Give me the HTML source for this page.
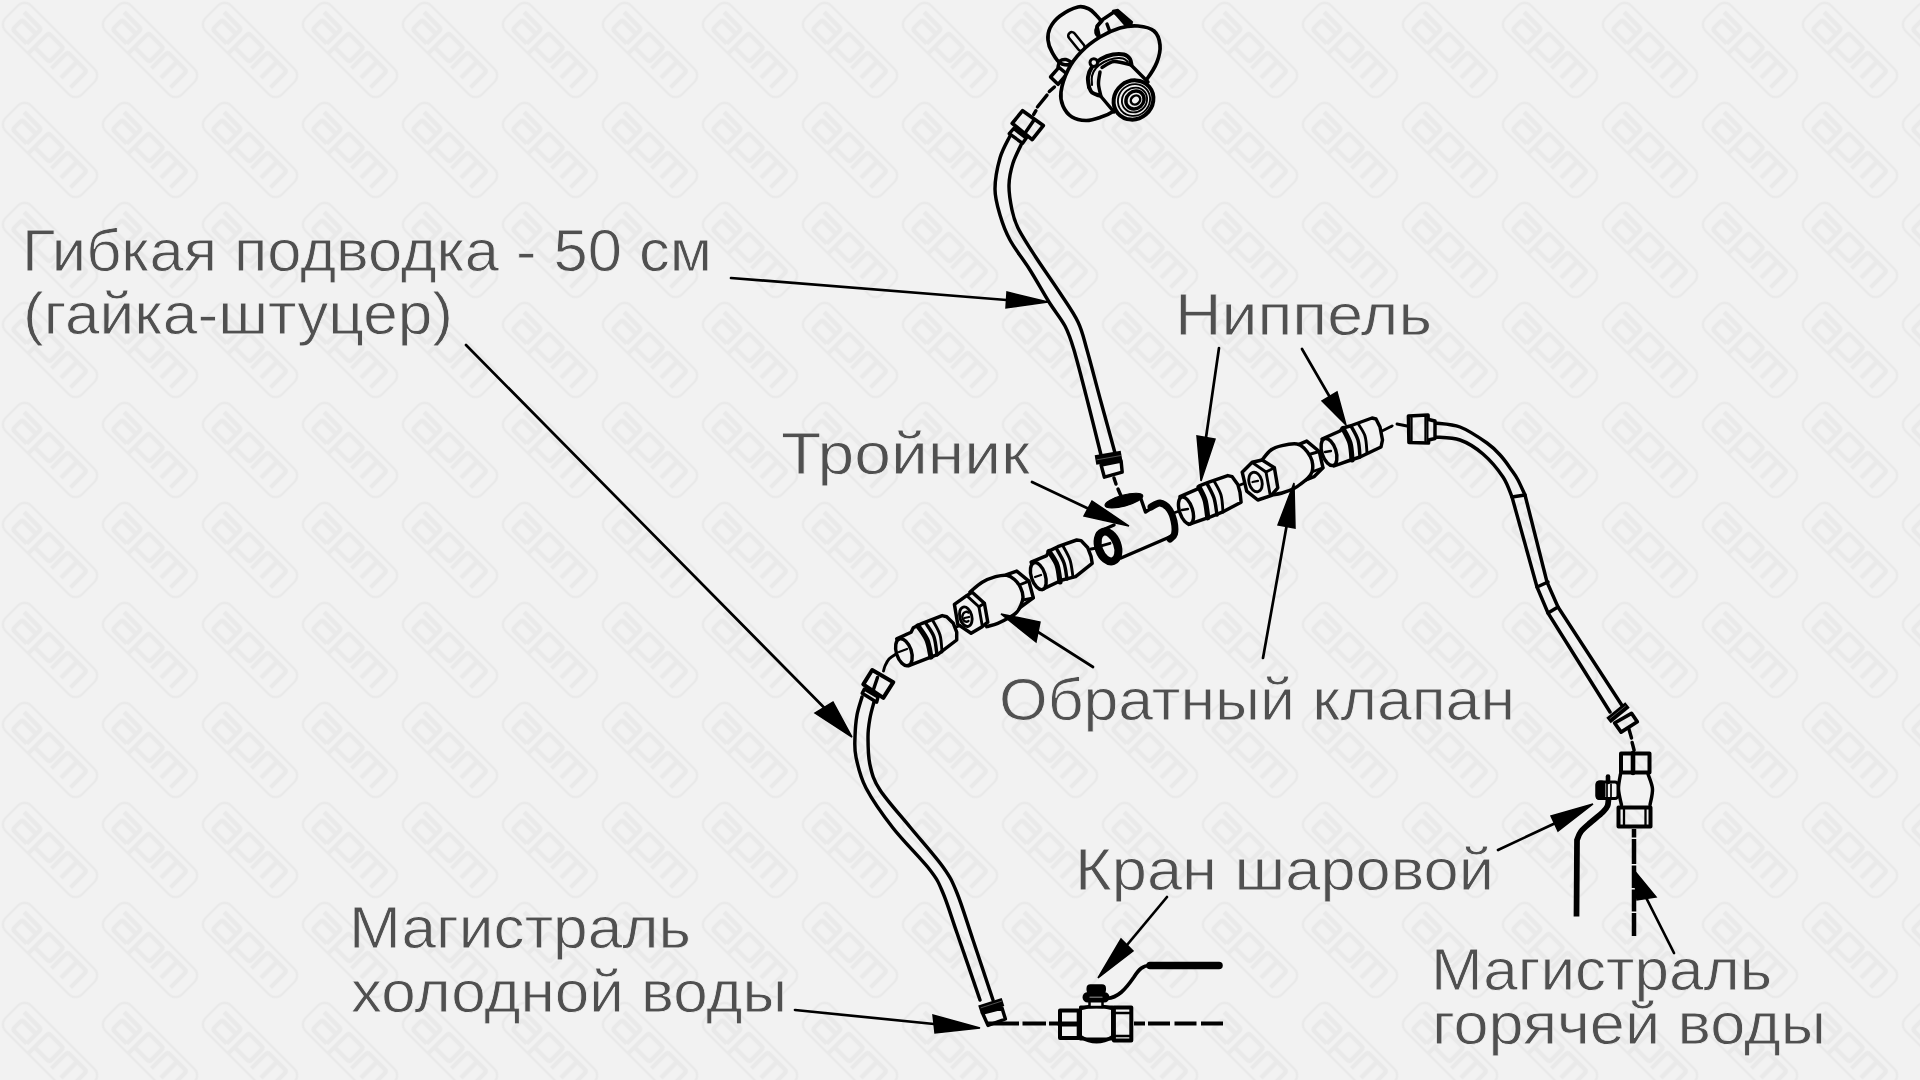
<!DOCTYPE html>
<html><head><meta charset="utf-8">
<style>
html,body{margin:0;padding:0;width:1920px;height:1080px;overflow:hidden;background:#f2f2f2;}
svg{position:absolute;left:0;top:0;}
text{font-family:"Liberation Sans",sans-serif;}
</style></head><body>
<svg width="1920" height="1080" viewBox="0 0 1920 1080">
<defs>
<filter id="wmblur" x="-20%" y="-50%" width="140%" height="200%"><feGaussianBlur stdDeviation="0.5"/></filter>
<pattern id="bg" x="0" y="0" width="100" height="100" patternUnits="userSpaceOnUse">
<rect width="100" height="100" fill="#f2f2f2"/>
<g transform="translate(50,50) rotate(45)" fill="none" stroke="#e9e9e9" filter="url(#wmblur)">
<rect x="-54" y="-18" width="108" height="36" rx="9" stroke-width="2.4"/>
<path d="M-45,-8.5 L-24,-8.5 Q-21,-8.5 -21,-5.5 L-21,12 M-21,-1.5 L-38,-1.5 Q-41,-1.5 -41,1.5 L-41,9 Q-41,12 -38,12 L-21,12 M-13,17 L-13,-8 Q-13,-11 -10,-11 L5,-11 Q8,-11 8,-8 L8,6 Q8,9 5,9 L-13,9 M14,12 L14,-8 Q14,-11 17,-11 L38,-11 Q41,-11 41,-8 L41,12 M27.5,-11 L27.5,12" stroke-width="4.4" stroke="#e9e9e9" fill="none"/>
</g>
</pattern>
</defs>
<rect width="1920" height="1080" fill="url(#bg)"/>

<g id="labels" fill="#505050" font-size="58.6" stroke="#f2f2f2" stroke-width="0.8">
<text x="22.0" y="270.7" textLength="690.0" lengthAdjust="spacingAndGlyphs">Гибкая подводка - 50 см</text>
<text x="23.0" y="333.7" textLength="430.0" lengthAdjust="spacingAndGlyphs">(гайка-штуцер)</text>
<text x="1175.0" y="334.7" textLength="257.0" lengthAdjust="spacingAndGlyphs">Ниппель</text>
<text x="781.0" y="473.7" textLength="249.0" lengthAdjust="spacingAndGlyphs">Тройник</text>
<text x="999.0" y="719.7" textLength="516.0" lengthAdjust="spacingAndGlyphs">Обратный клапан</text>
<text x="1075.0" y="889.7" textLength="419.0" lengthAdjust="spacingAndGlyphs">Кран шаровой</text>
<text x="349.0" y="947.7" textLength="342.0" lengthAdjust="spacingAndGlyphs">Магистраль</text>
<text x="351.0" y="1011.7" textLength="436.0" lengthAdjust="spacingAndGlyphs">холодной воды</text>
<text x="1431.0" y="989.7" textLength="341.0" lengthAdjust="spacingAndGlyphs">Магистраль</text>
<text x="1432.0" y="1043.7" textLength="394.0" lengthAdjust="spacingAndGlyphs">горячей воды</text>
</g>

<g id="drawing" fill="none" stroke="#000" stroke-width="3" stroke-linecap="round" stroke-linejoin="round">
<path d="M1010.0,136.0 C1008.3,139.7 1002.5,149.2 1000.0,158.0 C997.5,166.8 995.0,179.5 995.0,189.0 C995.0,198.5 997.5,206.5 1000.0,215.0 C1002.5,223.5 1005.0,230.8 1010.0,240.0 C1015.0,249.2 1023.5,259.7 1030.0,270.0 C1036.5,280.3 1043.2,292.7 1049.0,302.0 C1054.8,311.3 1060.8,318.0 1065.0,326.0 C1069.2,334.0 1070.2,337.2 1074.0,350.0 C1077.8,362.8 1083.5,385.5 1088.0,403.0 C1092.5,420.5 1098.8,446.3 1101.0,455.0" fill="none" stroke="#000" stroke-width="3.45" />
<path d="M1022.0,143.0 C1020.5,146.3 1015.2,156.0 1013.0,163.0 C1010.8,170.0 1009.2,177.2 1009.0,185.0 C1008.8,192.8 1010.5,202.8 1012.0,210.0 C1013.5,217.2 1014.2,220.3 1018.0,228.0 C1021.8,235.7 1028.0,245.2 1035.0,256.0 C1042.0,266.8 1052.8,282.0 1060.0,293.0 C1067.2,304.0 1073.5,312.5 1078.0,322.0 C1082.5,331.5 1083.2,336.7 1087.0,350.0 C1090.8,363.3 1096.3,384.8 1101.0,402.0 C1105.7,419.2 1112.7,444.5 1115.0,453.0" fill="none" stroke="#000" stroke-width="3.45" />
<path d="M862.0,697.0 C861.2,700.0 858.2,708.3 857.0,715.0 C855.8,721.7 855.2,730.0 855.0,737.0 C854.8,744.0 854.2,748.5 856.0,757.0 C857.8,765.5 859.8,776.2 866.0,788.0 C872.2,799.8 882.3,814.3 893.0,828.0 C903.7,841.7 921.7,859.2 930.0,870.0 C938.3,880.8 938.5,882.5 943.0,893.0 C947.5,903.5 950.8,915.2 957.0,933.0 C963.2,950.8 976.2,988.8 980.0,1000.0" fill="none" stroke="#000" stroke-width="3.45" />
<path d="M874.0,702.0 C873.3,704.7 871.0,712.2 870.0,718.0 C869.0,723.8 868.0,729.2 868.0,737.0 C868.0,744.8 868.0,756.2 870.0,765.0 C872.0,773.8 873.3,779.7 880.0,790.0 C886.7,800.3 899.5,814.2 910.0,827.0 C920.5,839.8 935.2,856.0 943.0,867.0 C950.8,878.0 952.0,880.8 957.0,893.0 C962.0,905.2 967.0,922.2 973.0,940.0 C979.0,957.8 989.7,990.0 993.0,1000.0" fill="none" stroke="#000" stroke-width="3.45" />
<path d="M1435.0,423.0 C1439.2,423.7 1451.3,423.7 1460.0,427.0 C1468.7,430.3 1480.2,438.2 1487.0,443.0 C1493.8,447.8 1496.9,451.5 1501.0,456.0 C1505.1,460.5 1508.7,466.0 1511.5,470.0 C1514.3,474.0 1515.8,475.8 1518.0,480.0 C1520.2,484.2 1523.8,492.5 1525.0,495.0 L1547,582 L1558,607 L1623,707" fill="none" stroke="#000" stroke-width="3.45" />
<path d="M1435.0,437.0 C1439.2,437.5 1452.0,437.2 1460.0,440.0 C1468.0,442.8 1475.8,447.8 1483.0,454.0 C1490.2,460.2 1498.2,469.8 1503.0,477.0 C1507.8,484.2 1510.5,493.7 1512.0,497.0 L1537,587 L1548,613 L1610,712" fill="none" stroke="#000" stroke-width="3.45" />
<path d="M1512.0,497.0 L1525.0,495.0" fill="none" stroke="#000" stroke-width="3.45" />
<path d="M1537.0,587.0 L1548.0,582.0" fill="none" stroke="#000" stroke-width="3.45" />
<path d="M1548.0,613.0 L1558.0,607.0" fill="none" stroke="#000" stroke-width="3.45" />
<path d="M1062.0,64.0 C1057.3,62.3 1054.3,56.0 1052.0,52.0 C1049.7,48.0 1048.3,44.0 1048.0,40.0 C1047.7,36.0 1048.0,32.0 1050.0,28.0 C1052.0,24.0 1055.3,19.5 1060.0,16.0 C1064.7,12.5 1073.2,8.2 1078.0,7.0 C1082.8,5.8 1086.0,7.7 1089.0,9.0 C1092.0,10.3 1093.8,12.8 1096.0,15.0 C1098.2,17.2 1100.0,19.5 1102.0,22.0 C1104.0,24.5 1108.3,25.7 1108.0,30.0 C1107.7,34.3 1104.7,42.7 1100.0,48.0 C1095.3,53.3 1086.3,59.3 1080.0,62.0 C1073.7,64.7 1066.7,65.7 1062.0,64.0 Z" fill="url(#bg)" stroke="#000" stroke-width="3.68" />
<path d="M1097.0,26.0 L1102.0,20.0 L1114.0,12.0 L1131.0,24.0 L1122.0,34.0 L1100.0,40.0 Z" fill="url(#bg)" stroke="#000" stroke-width="3.45" />
<path d="M1113.0,11.0 L1118.0,10.0 L1132.0,22.0 L1127.0,27.0 Z" fill="#000" stroke="#000" stroke-width="2.30" />
<path d="M1102.0,21.0 C1101.2,22.0 1098.0,25.0 1097.0,27.0 C1096.0,29.0 1095.7,31.3 1096.0,33.0 C1096.3,34.7 1098.5,36.3 1099.0,37.0" fill="none" stroke="#000" stroke-width="3.45" />
<path d="M1107.0,24.0 L1110.0,32.0" fill="none" stroke="#000" stroke-width="3.45" />
<rect x="-11" y="-3.6" width="22" height="7.2" rx="3.6" transform="translate(1076.5,41.5) rotate(51)" fill="none" stroke="#000" stroke-width="2.6"/>
<path d="M1050.5,77.0 L1058.9,67.4 L1067.0,74.0 L1058.0,84.3 Z" fill="url(#bg)" stroke="#000" stroke-width="3.45" />
<path d="M1058.0,67.0 C1058.3,66.0 1058.7,62.2 1060.0,61.0 C1061.3,59.8 1064.2,59.3 1066.0,59.5 C1067.8,59.7 1070.2,61.6 1071.0,62.0" fill="none" stroke="#000" stroke-width="3.45" />
<path d="M1061.0,92.0 C1060.2,98.0 1061.2,101.8 1063.0,106.0 C1064.8,110.2 1068.2,114.6 1072.0,117.0 C1075.8,119.4 1081.3,120.4 1086.0,120.5 C1090.7,120.6 1095.3,119.1 1100.0,117.5 C1104.7,115.9 1108.7,114.6 1114.0,111.0 C1119.3,107.4 1126.5,101.3 1132.0,96.0 C1137.5,90.7 1142.8,84.7 1147.0,79.0 C1151.2,73.3 1154.8,67.7 1157.0,62.0 C1159.2,56.3 1160.5,50.2 1160.0,45.0 C1159.5,39.8 1157.7,34.2 1154.0,31.0 C1150.3,27.8 1143.7,26.5 1138.0,26.0 C1132.3,25.5 1126.3,26.2 1120.0,28.0 C1113.7,29.8 1106.5,33.0 1100.0,37.0 C1093.5,41.0 1086.3,46.5 1081.0,52.0 C1075.7,57.5 1071.3,63.3 1068.0,70.0 C1064.7,76.7 1061.8,86.0 1061.0,92.0 Z" fill="url(#bg)" stroke="#000" stroke-width="3.68" />
<path d="M1089.0,87.0 C1088.8,85.3 1087.5,80.3 1088.0,77.0 C1088.5,73.7 1089.8,70.0 1092.0,67.0 C1094.2,64.0 1097.5,61.1 1101.0,59.0 C1104.5,56.9 1109.2,55.2 1113.0,54.5 C1116.8,53.8 1121.2,53.8 1124.0,54.5 C1126.8,55.2 1128.8,57.2 1130.0,59.0 C1131.2,60.8 1131.2,64.0 1131.5,65.0" fill="none" stroke="#000" stroke-width="4.02" />
<path d="M1092.0,85.0 C1092.0,83.5 1091.3,78.8 1092.0,76.0 C1092.7,73.2 1094.0,70.3 1096.0,68.0 C1098.0,65.7 1101.0,63.6 1104.0,62.0 C1107.0,60.4 1110.8,59.1 1114.0,58.5 C1117.2,57.9 1120.7,57.9 1123.0,58.5 C1125.3,59.1 1127.2,61.4 1128.0,62.0" fill="none" stroke="#000" stroke-width="2.07" />
<path d="M1089.0,87.0 C1089.5,87.9 1090.3,91.1 1092.0,92.5 C1093.7,93.9 1097.8,95.0 1099.0,95.5" fill="none" stroke="#000" stroke-width="4.02" />
<path d="M1100.0,70.0 L1102.0,67.5 L1114.0,61.5 L1131.0,65.0 L1150.0,84.0 L1117.0,116.0 L1101.0,96.5 L1098.5,84.0 Z" fill="url(#bg)" stroke="none" stroke-width="0.00" />
<path d="M1102.0,67.5 C1104.0,66.5 1109.2,61.9 1114.0,61.5 C1118.8,61.1 1128.2,64.4 1131.0,65.0" fill="none" stroke="#000" stroke-width="3.45" />
<path d="M1100.0,72.0 C1099.8,74.0 1098.3,79.9 1098.5,84.0 C1098.7,88.1 1100.6,94.4 1101.0,96.5" fill="none" stroke="#000" stroke-width="3.45" />
<path d="M1131.0,65.0 L1148.0,82.0" fill="none" stroke="#000" stroke-width="3.45" />
<path d="M1101.0,96.5 L1114.0,112.0" fill="none" stroke="#000" stroke-width="3.45" />
<ellipse cx="1133.5" cy="100" rx="20.5" ry="19" transform="rotate(-40 1133.5 100)" fill="url(#bg)" stroke="#000" stroke-width="4.02"/>
<ellipse cx="1134" cy="100" rx="16.5" ry="15.5" transform="rotate(-40 1134 100)" fill="none" stroke="#000" stroke-width="1.84"/>
<ellipse cx="1134.5" cy="100" rx="13" ry="12" transform="rotate(-40 1134.5 100)" fill="none" stroke="#000" stroke-width="1.84"/>
<ellipse cx="1135" cy="100" rx="9.5" ry="8.5" transform="rotate(-40 1135 100)" fill="none" stroke="#000" stroke-width="3.45"/>
<ellipse cx="1135.5" cy="100" rx="5" ry="4.2" transform="rotate(-40 1135.5 100)" fill="none" stroke="#000" stroke-width="2.53"/>
<ellipse cx="1093.8" cy="62.6" rx="3.8" ry="3.8" transform="rotate(0 1093.8 62.6)" fill="url(#bg)" stroke="#000" stroke-width="2.99"/>
<path d="M1012.2,123.3 L1022.6,110.7 L1043.3,125.6 L1032.2,139.6 Z" fill="url(#bg)" stroke="#000" stroke-width="3.68" />
<path d="M1033.7,120.4 L1025.6,132.2" fill="none" stroke="#000" stroke-width="3.45" />
<path d="M1009.3,133.7 L1013.7,128.5 L1026.3,138.1 L1022.6,143.3 Z" fill="url(#bg)" stroke="#000" stroke-width="3.45" />
<path d="M1033.7,114.4 L1035.9,110.7" fill="none" stroke="#000" stroke-width="3.45" />
<path d="M1037.4,107.0 L1047.0,95.2" fill="none" stroke="#000" stroke-width="3.45" />
<path d="M1049.3,91.5 L1054.4,87.0" fill="none" stroke="#000" stroke-width="3.45" />
<path d="M1095.5,460.0 L1121.5,455.5" fill="none" stroke="#000" stroke-width="9.50" stroke-linecap="butt"/>
<path d="M1097.0,459.8 L1120.5,455.6" fill="none" stroke="#666" stroke-width="0.80" />
<path d="M1101.1,465.0 L1121.1,461.0 L1122.2,472.2 L1104.4,477.2 Z" fill="url(#bg)" stroke="#000" stroke-width="3.45" />
<path d="M1114.0,478.0 L1116.0,484.0" fill="none" stroke="#000" stroke-width="3.45" />
<path d="M1118.0,489.0 L1121.0,496.0" fill="none" stroke="#000" stroke-width="3.45" />
<path d="M1104.0,505.0 L1142.0,497.0 L1146.0,512.0 L1156.0,506.0 L1166.0,506.0 L1174.0,522.0 L1172.0,536.0 L1121.0,558.0 L1110.0,560.0 L1100.0,540.0 L1102.0,528.0 Z" fill="url(#bg)" stroke="none" stroke-width="0.00" />
<path d="M1121.0,558.0 L1172.0,536.0" fill="none" stroke="#000" stroke-width="3.45" />
<path d="M1141.0,499.0 L1145.5,512.0 L1152.5,507.5" fill="none" stroke="#000" stroke-width="3.45" />
<path d="M1105.0,529.0 L1114.0,525.0" fill="none" stroke="#000" stroke-width="3.45" />
<path d="M1151.0,507.0 C1152.5,506.3 1157.0,502.7 1160.0,503.0 C1163.0,503.3 1166.7,506.0 1169.0,509.0 C1171.3,512.0 1173.1,516.8 1174.0,521.0 C1174.9,525.2 1175.2,531.0 1174.5,534.0 C1173.8,537.0 1170.8,538.2 1170.0,539.0" fill="none" stroke="#000" stroke-width="6.90" />
<ellipse cx="1123.9" cy="500.6" rx="19.5" ry="5.5" transform="rotate(-15 1123.9 500.6)" fill="#000" stroke="#000" stroke-width="1.15"/>
<ellipse cx="1108" cy="546.5" rx="9.5" ry="15.5" transform="rotate(-20 1108 546.5)" fill="url(#bg)" stroke="#000" stroke-width="8.05"/>
<path d="M1102.0,545.6 L1110.0,543.3" fill="none" stroke="#000" stroke-width="2.88" />
<path d="M1180.0,496.7 L1197.8,488.9 L1200.0,485.6 L1208.9,482.2 L1227.8,475.6 L1232.2,476.7 L1237.8,484.4 L1240.0,492.2 L1241.1,502.2 L1222.2,512.2 L1211.1,516.7 L1188.9,524.4 Z" fill="url(#bg)" stroke="#000" stroke-width="3.45" />
<ellipse cx="1186" cy="510.5" rx="6.5" ry="14" transform="rotate(-18 1186 510.5)" fill="url(#bg)" stroke="#000" stroke-width="3.45"/>
<path d="M1182.0,510.0 L1188.0,509.0" fill="none" stroke="#000" stroke-width="2.30" />
<path d="M1199.0,487.0 C1200.0,489.2 1203.5,494.9 1205.0,500.0 C1206.5,505.1 1207.3,514.8 1207.8,517.8" fill="none" stroke="#000" stroke-width="5.17" />
<path d="M1207.0,483.5 C1208.2,485.9 1212.3,492.8 1214.0,498.0 C1215.7,503.2 1216.5,512.2 1217.0,515.0" fill="none" stroke="#000" stroke-width="3.45" />
<path d="M1214.0,481.0 C1215.2,483.3 1219.5,489.8 1221.0,495.0 C1222.5,500.2 1222.7,509.2 1223.0,512.0" fill="none" stroke="#000" stroke-width="2.88" />
<path d="M1172.0,513.5 L1178.0,511.5" fill="none" stroke="#000" stroke-width="2.88" />
<path d="M1240.0,485.0 L1245.0,483.0" fill="none" stroke="#000" stroke-width="2.88" />
<path d="M1297.8,444.8 L1306.7,441.1 L1319.3,451.5 L1323.0,467.8 L1314.0,476.7 L1306.0,480.0" fill="url(#bg)" stroke="#000" stroke-width="3.45" />
<path d="M1309.0,454.5 L1319.3,451.5" fill="none" stroke="#000" stroke-width="2.88" />
<path d="M1313.0,471.5 L1323.0,467.8" fill="none" stroke="#000" stroke-width="2.88" />
<path d="M1262.0,460.0 C1263.5,458.3 1267.7,452.4 1271.0,450.0 C1274.3,447.6 1277.7,446.6 1282.0,445.6 C1286.3,444.6 1293.3,443.5 1297.0,444.0 C1300.7,444.5 1302.2,446.4 1304.4,448.5 C1306.6,450.6 1309.0,454.1 1310.4,456.7 C1311.8,459.3 1312.3,461.4 1312.6,464.0 C1312.9,466.6 1312.8,469.7 1312.0,472.0 C1311.2,474.3 1309.8,476.1 1308.0,478.0 C1306.2,479.9 1303.8,481.6 1301.5,483.3 C1299.2,485.1 1297.2,486.9 1294.0,488.5 C1290.8,490.1 1285.7,491.9 1282.0,493.0 C1278.3,494.1 1273.7,494.7 1272.0,495.0" fill="url(#bg)" stroke="#000" stroke-width="3.45" />
<path d="M1242.2,472.2 L1252.2,462.2 L1262.2,460.0 L1274.4,467.8 L1277.8,487.8 L1271.1,495.6 L1257.8,500.0 L1246.7,491.1 Z" fill="url(#bg)" stroke="#000" stroke-width="3.45" />
<path d="M1253.0,463.0 L1266.0,472.0 L1274.4,467.8" fill="none" stroke="#000" stroke-width="2.88" />
<path d="M1266.0,472.0 L1270.0,494.0" fill="none" stroke="#000" stroke-width="2.88" />
<ellipse cx="1255.5" cy="482" rx="6.5" ry="10" transform="rotate(-15 1255.5 482)" fill="none" stroke="#000" stroke-width="2.88"/>
<path d="M1252.5,482.0 L1258.0,480.8" fill="none" stroke="#000" stroke-width="2.30" />
<path d="M1322.0,439.0 L1340.0,431.0 L1343.0,428.0 L1350.0,426.0 L1372.0,418.0 L1376.0,419.0 L1380.0,427.0 L1382.5,440.0 L1381.0,447.0 L1360.0,457.0 L1348.0,461.0 L1334.0,466.0 Z" fill="url(#bg)" stroke="#000" stroke-width="3.45" />
<ellipse cx="1329" cy="452" rx="7" ry="14" transform="rotate(-18 1329 452)" fill="url(#bg)" stroke="#000" stroke-width="3.45"/>
<path d="M1325.0,452.0 L1331.0,451.0" fill="none" stroke="#000" stroke-width="2.30" />
<path d="M1343.0,428.5 C1344.2,430.9 1348.5,437.8 1350.0,443.0 C1351.5,448.2 1351.7,457.2 1352.0,460.0" fill="none" stroke="#000" stroke-width="5.17" />
<path d="M1351.0,426.0 C1352.2,428.3 1356.5,434.8 1358.0,440.0 C1359.5,445.2 1359.7,454.2 1360.0,457.0" fill="none" stroke="#000" stroke-width="3.45" />
<path d="M1358.0,423.5 C1359.2,425.6 1363.5,431.1 1365.0,436.0 C1366.5,440.9 1366.7,450.2 1367.0,453.0" fill="none" stroke="#000" stroke-width="2.88" />
<path d="M1382.0,431.0 L1392.0,426.0" fill="none" stroke="#000" stroke-width="2.88" />
<path d="M1397.0,424.0 L1407.0,426.0" fill="none" stroke="#000" stroke-width="2.88" />
<path d="M1408.5,416.0 L1428.0,415.0 L1428.5,443.0 L1409.0,442.5 Z" fill="url(#bg)" stroke="#000" stroke-width="3.68" />
<path d="M1411.5,418.0 L1411.5,441.0" fill="none" stroke="#000" stroke-width="2.30" />
<path d="M1425.5,417.0 L1425.5,441.0" fill="none" stroke="#000" stroke-width="2.30" />
<path d="M1428.5,419.5 L1435.0,421.0 L1435.0,438.5 L1428.5,440.0" fill="url(#bg)" stroke="#000" stroke-width="3.45" />
<path d="M1031.1,562.2 L1046.7,555.6 L1048.9,551.1 L1057.8,546.7 L1076.7,540.0 L1081.1,540.6 L1087.8,547.8 L1091.1,556.7 L1092.2,563.3 L1075.6,576.7 L1062.2,580.0 L1042.2,589.4 Z" fill="url(#bg)" stroke="#000" stroke-width="3.45" />
<ellipse cx="1038.3" cy="576.1" rx="7" ry="14" transform="rotate(-18 1038.3 576.1)" fill="url(#bg)" stroke="#000" stroke-width="3.45"/>
<path d="M1035.0,577.0 L1041.0,575.0" fill="none" stroke="#000" stroke-width="2.30" />
<path d="M1049.0,551.5 C1050.3,553.8 1055.2,559.9 1057.0,565.0 C1058.8,570.1 1059.5,579.2 1060.0,582.0" fill="none" stroke="#000" stroke-width="5.17" />
<path d="M1056.7,549.0 C1057.9,551.3 1062.3,558.0 1064.0,563.0 C1065.7,568.0 1066.5,576.3 1067.0,579.0" fill="none" stroke="#000" stroke-width="3.45" />
<path d="M1063.0,546.0 C1064.2,548.3 1068.3,554.8 1070.0,560.0 C1071.7,565.2 1072.5,574.2 1073.0,577.0" fill="none" stroke="#000" stroke-width="2.88" />
<path d="M1091.0,549.0 L1097.0,548.0" fill="none" stroke="#000" stroke-width="2.88" />
<path d="M1006.7,574.6 L1016.7,571.1 L1028.9,581.1 L1033.3,597.8 L1024.4,604.4 L1018.0,609.0" fill="url(#bg)" stroke="#000" stroke-width="3.45" />
<path d="M1020.5,584.5 L1028.9,581.1" fill="none" stroke="#000" stroke-width="2.88" />
<path d="M1023.0,600.0 L1033.3,597.8" fill="none" stroke="#000" stroke-width="2.88" />
<path d="M970.0,592.0 C972.0,590.4 977.9,584.8 982.2,582.2 C986.5,579.7 991.5,577.9 995.6,576.7 C999.7,575.6 1003.6,574.8 1006.7,575.3 C1009.9,575.8 1012.2,577.5 1014.5,579.5 C1016.8,581.5 1019.1,584.6 1020.5,587.5 C1021.9,590.4 1022.9,594.1 1023.0,597.0 C1023.1,599.9 1022.0,602.5 1021.0,605.0 C1020.0,607.5 1018.7,610.1 1016.7,612.2 C1014.7,614.3 1012.0,615.9 1008.9,617.8 C1005.8,619.6 1001.5,621.8 997.8,623.3 C994.1,624.8 988.6,626.1 986.7,626.7" fill="url(#bg)" stroke="#000" stroke-width="3.45" />
<path d="M954.4,604.4 L966.7,595.6 L972.2,592.2 L984.4,603.3 L987.8,622.2 L982.2,626.7 L971.1,633.3 L957.8,624.4 Z" fill="url(#bg)" stroke="#000" stroke-width="3.45" />
<path d="M966.7,595.6 L978.9,606.7 L984.4,603.3" fill="none" stroke="#000" stroke-width="2.88" />
<path d="M978.9,606.7 L982.2,625.6" fill="none" stroke="#000" stroke-width="2.88" />
<ellipse cx="965.8" cy="616.7" rx="6" ry="10" transform="rotate(-15 965.8 616.7)" fill="none" stroke="#000" stroke-width="2.88"/>
<path d="M968.5,612.5 A4,5 0 1 0 968.5,621" fill="none" stroke="#000" stroke-width="2.30" />
<path d="M964.5,618.0 L969.0,617.0" fill="none" stroke="#000" stroke-width="2.30" />
<path d="M896.7,638.9 L911.1,632.2 L913.3,627.8 L922.2,623.3 L942.2,615.6 L946.7,616.7 L953.3,623.3 L956.7,632.2 L956.7,640.0 L937.8,654.4 L928.9,657.8 L908.9,665.6 Z" fill="url(#bg)" stroke="#000" stroke-width="3.45" />
<ellipse cx="903.9" cy="652.2" rx="7.5" ry="14" transform="rotate(-18 903.9 652.2)" fill="url(#bg)" stroke="#000" stroke-width="3.45"/>
<path d="M899.0,652.0 L907.0,649.0" fill="none" stroke="#000" stroke-width="2.30" />
<path d="M918.0,626.0 C919.5,628.3 924.8,634.8 927.0,640.0 C929.2,645.2 930.3,654.2 931.0,657.0" fill="none" stroke="#000" stroke-width="5.17" />
<path d="M926.0,623.5 C927.3,625.8 932.2,631.8 934.0,637.0 C935.8,642.2 936.5,652.0 937.0,655.0" fill="none" stroke="#000" stroke-width="3.45" />
<path d="M933.0,621.0 C934.2,623.3 938.5,629.8 940.0,635.0 C941.5,640.2 941.7,649.2 942.0,652.0" fill="none" stroke="#000" stroke-width="2.88" />
<path d="M956.5,627.0 L960.0,625.5" fill="none" stroke="#000" stroke-width="2.88" />
<path d="M896.0,654.0 C894.8,654.8 890.8,657.0 889.0,659.0 C887.2,661.0 885.9,664.0 885.0,666.0 C884.1,668.0 883.8,670.2 883.5,671.0" fill="none" stroke="#000" stroke-width="2.88" />
<path d="M863.3,684.4 L872.2,670.0 L893.3,682.2 L883.3,697.8 Z" fill="url(#bg)" stroke="#000" stroke-width="4.02" />
<path d="M877.5,677.5 L873.3,690.0" fill="none" stroke="#000" stroke-width="3.45" />
<path d="M862.2,693.3 L864.4,689.0 L878.0,697.0 L876.7,702.2 Z" fill="url(#bg)" stroke="#000" stroke-width="3.45" />
<path d="M979.5,1009.5 L1003.0,1002.0" fill="none" stroke="#000" stroke-width="8.50" stroke-linecap="butt"/>
<path d="M981.0,1007.8 L1001.5,1001.2" fill="none" stroke="#666" stroke-width="0.80" />
<path d="M982.5,1013.0 L1002.0,1008.0 L1005.4,1019.0 L988.0,1025.4 Z" fill="url(#bg)" stroke="#000" stroke-width="3.45" />
<path d="M1608.5,720.5 L1627.5,705.0" fill="none" stroke="#000" stroke-width="7.00" stroke-linecap="butt"/>
<path d="M1610.0,718.5 L1625.5,706.0" fill="none" stroke="#666" stroke-width="0.80" />
<path d="M1614.6,723.0 L1631.5,713.3 L1637.3,721.8 L1621.1,732.1 Z" fill="url(#bg)" stroke="#000" stroke-width="3.68" />
<path d="M1628.9,729.0 L1631.5,738.0" fill="none" stroke="#000" stroke-width="3.45" />
<path d="M1632.1,742.5 L1634.1,750.3" fill="none" stroke="#000" stroke-width="3.45" />
<path d="M1620.5,774.0 C1620.2,776.5 1618.3,783.8 1618.5,789.0 C1618.7,794.2 1621.0,802.3 1621.5,805.0 L1650,805 " fill="url(#bg)" stroke="none" stroke-width="0.00" />
<rect x="1619.5" y="774" width="31" height="31" fill="url(#bg)" stroke="none"/>
<path d="M1620.5,774.0 C1620.2,776.5 1618.3,783.8 1618.5,789.0 C1618.7,794.2 1621.0,802.3 1621.5,805.0" fill="none" stroke="#000" stroke-width="3.45" />
<path d="M1648.0,774.0 C1648.8,776.5 1652.2,783.8 1652.5,789.0 C1652.8,794.2 1650.4,802.3 1650.0,805.0" fill="none" stroke="#000" stroke-width="3.45" />
<rect x="1621" y="753.5" width="28.5" height="19" fill="url(#bg)" stroke="#000" stroke-width="4"/>
<path d="M1633.0,753.0 L1633.0,773.0" fill="none" stroke="#000" stroke-width="4.60" />
<rect x="1618.5" y="807.5" width="32" height="19" fill="url(#bg)" stroke="#000" stroke-width="4"/>
<path d="M1624.0,808.0 L1624.0,826.0" fill="none" stroke="#000" stroke-width="2.30" />
<path d="M1645.5,808.0 L1645.5,826.0" fill="none" stroke="#000" stroke-width="2.30" />
<rect x="1597" y="782" width="21" height="16.5" rx="3" fill="url(#bg)" stroke="#000" stroke-width="3"/>
<rect x="1597" y="782" width="7" height="16.5" rx="2.5" fill="#000"/>
<path d="M1607.0,784.0 L1607.0,797.0" fill="none" stroke="#000" stroke-width="1.72" />
<path d="M1611.0,784.0 L1611.0,797.0" fill="none" stroke="#000" stroke-width="1.72" />
<path d="M1608.0,782.0 L1608.0,776.5" fill="none" stroke="#000" stroke-width="4.60" />
<path d="M1608.5,799.0 C1608.3,800.2 1608.4,803.8 1607.5,806.0 C1606.6,808.2 1605.9,809.2 1603.0,812.0 C1600.1,814.8 1593.7,819.8 1590.0,823.0 C1586.3,826.2 1583.2,828.7 1581.0,831.5 C1578.8,834.3 1577.7,838.6 1577.0,840.0 L1576.5,916.5" fill="none" stroke="#000" stroke-width="5.75" stroke-linecap="butt"/>
<line x1="1634" y1="829" x2="1634" y2="936.5" stroke="#000" stroke-width="4.5" stroke-dasharray="8.5 1.5 25 1.5 22.5 1.5 22 1.5 23" stroke-linecap="butt"/>
<line x1="988" y1="1023.5" x2="1058" y2="1023.5" stroke="#000" stroke-width="4.2" stroke-dasharray="31 3.5 23.5 3 9" stroke-linecap="butt"/>
<rect x="1080.5" y="1007" width="32" height="32" fill="url(#bg)"/>
<path d="M1080.7,1008.5 Q1096.5,1004 1112.6,1008.5" fill="none" stroke="#000" stroke-width="3.45" />
<path d="M1080.7,1036.7 Q1096.5,1047 1112.6,1036.7" fill="none" stroke="#000" stroke-width="3.45" />
<rect x="1060" y="1010.5" width="18.7" height="27.5" fill="url(#bg)" stroke="#000" stroke-width="4"/>
<path d="M1060.0,1024.0 L1079.0,1024.0" fill="none" stroke="#000" stroke-width="5.17" />
<rect x="1113.9" y="1007.6" width="17.4" height="33" fill="url(#bg)" stroke="#000" stroke-width="4"/>
<path d="M1114.0,1013.0 L1131.0,1013.0" fill="none" stroke="#000" stroke-width="2.30" />
<path d="M1114.0,1036.0 L1131.0,1036.0" fill="none" stroke="#000" stroke-width="2.30" />
<rect x="1089.5" y="1000" width="13" height="7" fill="url(#bg)" stroke="#000" stroke-width="2.5"/>
<rect x="1084" y="993.5" width="24" height="7.5" rx="3.7" fill="#000"/>
<path d="M1090.0,997.2 L1102.0,997.2" fill="none" stroke="#666" stroke-width="1.38" />
<rect x="1088" y="985.8" width="16.5" height="6.5" rx="2.5" fill="#000"/>
<path d="M1107,998.5 C1118,997.5 1125,990 1134,977 C1139,969 1143,965.5 1150,965.5" fill="none" stroke="#000" stroke-width="3.68" />
<path d="M1150.0,965.5 L1219.0,965.5" fill="none" stroke="#000" stroke-width="7.47" />
<line x1="1134" y1="1023.5" x2="1226" y2="1023.5" stroke="#000" stroke-width="4.2" stroke-dasharray="11 3 22 4.5 22 4.5 22" stroke-linecap="butt"/>
<path d="M731.0,278.0 L1006.5,300.0" fill="none" stroke="#000" stroke-width="2.70" />
<path d="M1048.0,302.0 L1007.0,292.0 L1006.0,308.0 Z" fill="#000" stroke="#000" stroke-width="1.5" stroke-linejoin="miter"/>
<path d="M466.0,345.0 L824.0,707.5" fill="none" stroke="#000" stroke-width="2.70" />
<path d="M852.0,737.0 L815.0,713.0 L833.0,702.0 Z" fill="#000" stroke="#000" stroke-width="1.5" stroke-linejoin="miter"/>
<path d="M1032.0,482.0 L1088.0,508.5" fill="none" stroke="#000" stroke-width="2.70" />
<path d="M1129.0,526.0 L1084.0,516.0 L1092.0,501.0 Z" fill="#000" stroke="#000" stroke-width="1.5" stroke-linejoin="miter"/>
<path d="M1219.0,348.0 L1206.0,437.5" fill="none" stroke="#000" stroke-width="2.70" />
<path d="M1201.0,481.0 L1197.0,436.0 L1215.0,439.0 Z" fill="#000" stroke="#000" stroke-width="1.5" stroke-linejoin="miter"/>
<path d="M1302.0,349.0 L1329.5,396.5" fill="none" stroke="#000" stroke-width="2.70" />
<path d="M1346.0,425.0 L1322.0,401.0 L1337.0,392.0 Z" fill="#000" stroke="#000" stroke-width="1.5" stroke-linejoin="miter"/>
<path d="M1093.0,667.0 L1038.0,632.0" fill="none" stroke="#000" stroke-width="2.70" />
<path d="M1001.0,614.0 L1040.0,622.0 L1036.0,642.0 Z" fill="#000" stroke="#000" stroke-width="1.5" stroke-linejoin="miter"/>
<path d="M1263.0,658.0 L1286.5,526.5" fill="none" stroke="#000" stroke-width="2.70" />
<path d="M1294.0,483.0 L1278.0,525.0 L1295.0,528.0 Z" fill="#000" stroke="#000" stroke-width="1.5" stroke-linejoin="miter"/>
<path d="M1167.0,897.0 L1127.0,945.0" fill="none" stroke="#000" stroke-width="2.70" />
<path d="M1098.0,978.0 L1121.0,939.0 L1133.0,951.0 Z" fill="#000" stroke="#000" stroke-width="1.5" stroke-linejoin="miter"/>
<path d="M1498.0,850.0 L1554.5,823.5" fill="none" stroke="#000" stroke-width="2.70" />
<path d="M1593.0,804.0 L1551.0,816.0 L1558.0,831.0 Z" fill="#000" stroke="#000" stroke-width="1.5" stroke-linejoin="miter"/>
<path d="M1674.0,953.0 L1646.5,898.5" fill="none" stroke="#000" stroke-width="2.70" />
<path d="M1633.0,869.0 L1637.0,900.0 L1656.0,897.0 Z" fill="#000" stroke="#000" stroke-width="1.5" stroke-linejoin="miter"/>
<path d="M795.0,1010.0 L934.0,1024.0" fill="none" stroke="#000" stroke-width="2.70" />
<path d="M980.0,1028.0 L933.0,1015.0 L935.0,1033.0 Z" fill="#000" stroke="#000" stroke-width="1.5" stroke-linejoin="miter"/>
</g>
</svg>
</body></html>
